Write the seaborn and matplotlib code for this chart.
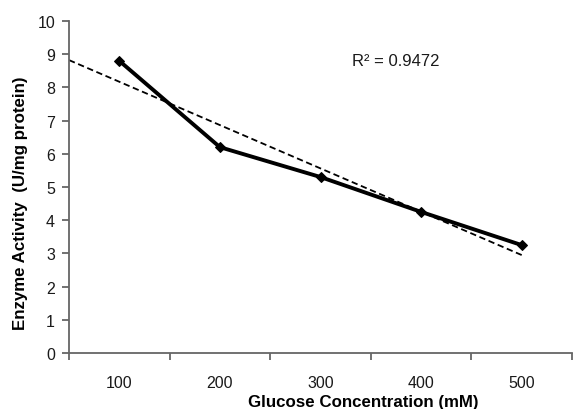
import numpy as np
import pandas as pd
import matplotlib
matplotlib.use("Agg")
import matplotlib.pyplot as plt
import seaborn as sns

categories = ["100", "200", "300", "400", "500"]
activity = [8.8, 6.2, 5.3, 4.25, 3.25]
r2_label = "R\u00b2 = 0.9472"

sns.set_style("white")
plt.rcParams['font.family'] = ['Liberation Sans', 'DejaVu Sans']

W, H = 573, 410
fig = plt.figure(figsize=(W/100, H/100), dpi=100)
ax = fig.add_axes([69/W, 1-354/H, (572-69)/W, (354-22)/H])

pos = np.arange(len(categories))
df = pd.DataFrame({"pos": pos, "activity": activity})

# linear trendline (least squares fit of the data)
slope, intercept = np.polyfit(pos, activity, 1)
tx = np.array([-0.5, pos[-1]])
tdf = pd.DataFrame({"x": tx, "y": slope*tx + intercept})
sns.lineplot(data=tdf, x="x", y="y", ax=ax, color="black", lw=1.3,
             linestyle=(0, (3.5, 2)), zorder=2)

sns.lineplot(data=df, x="pos", y="activity", ax=ax, color="black", lw=2.8,
             marker="D", markersize=5, markeredgecolor="black", zorder=3)

ax.set_xlim(-0.5, len(categories)-0.5)
ax.set_ylim(0, 10)
ax.set_yticks(range(0, 11))
ax.set_xticks(pos)
ax.set_xticklabels(categories)
ax.set_xticks(np.arange(-0.5, len(categories)), minor=True)
ax.tick_params(axis="x", which="major", length=0, labelsize=11.5, pad=16, colors="#1a1a1a")
ax.tick_params(axis="x", which="minor", length=5, width=1.3, color="#666666", direction="out",
               bottom=True)
ax.tick_params(axis="y", length=5, width=1.3, color="#666666", labelsize=11.5, pad=5,
               direction="out", labelcolor="#1a1a1a", left=True)

for s in ["top", "right"]:
    ax.spines[s].set_visible(False)
for s in ["left", "bottom"]:
    ax.spines[s].set_color("#666666")
    ax.spines[s].set_linewidth(1.3)

ax.set_xlabel("Glucose Concentration (mM)", fontsize=12.2, fontweight="bold", color="black")
ax.set_ylabel("Enzyme Activity  (U/mg protein)", fontsize=12.2, fontweight="bold", color="black")
ax.xaxis.set_label_coords((363-69)/503, (354-395)/332)
ax.yaxis.set_label_coords((28-69)/503, (354-203)/332)

fig.text(352/W, 1-62/H, r2_label, fontsize=12, va="center", ha="left", color="#1a1a1a")

fig.savefig("out.png", dpi=100)
